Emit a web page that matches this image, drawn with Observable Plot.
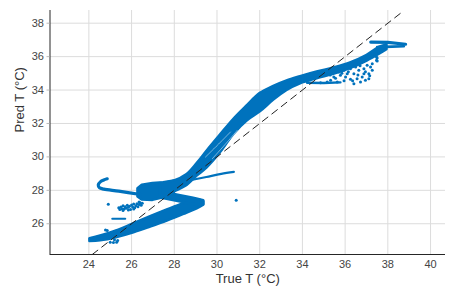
<!DOCTYPE html>
<html><head><meta charset="utf-8">
<script src="https://cdn.jsdelivr.net/npm/d3@7"></script>
<script src="https://cdn.jsdelivr.net/npm/@observablehq/plot@0.6"></script>
<style>body{margin:0;background:#fff;}</style>
</head><body><div id="chart"></div>
<script>
const xTicks = [24, 26, 28, 30, 32, 34, 36, 38, 40];
const yTicks = [26, 28, 30, 32, 34, 36, 38];
const xLabel = "True T (°C)";
const yLabel = "Pred T (°C)";
const xDomain = [22.18, 40.7];
const yDomain = [24.16, 38.76];

// main rising band: x, lower y, upper y
const mainX  = [27.35, 27.98, 28.60, 29.07, 29.54, 30.16, 30.79, 31.41, 32.03, 32.66, 33.28, 33.91, 34.69, 35.47, 36.25, 37.03, 37.65, 37.96];
const mainLo = [27.60, 27.90, 28.30, 28.85, 29.35, 30.25, 31.35, 32.15, 32.70, 33.40, 33.98, 34.38, 34.68, 34.94, 35.28, 35.74, 36.18, 36.42];
const mainHi = [28.40, 28.55, 28.95, 29.60, 30.35, 31.30, 32.25, 33.05, 33.80, 34.22, 34.55, 34.80, 35.08, 35.32, 35.62, 36.08, 36.58, 36.68];

// lower stroke of the "Z"
const lowX  = [24.05, 24.55, 25.33, 26.11, 26.89, 27.67, 28.45, 29.07, 29.38];
const lowLo = [24.94, 24.98, 25.18, 25.46, 25.80, 26.16, 26.56, 26.90, 27.12];
const lowHi = [25.10, 25.26, 25.58, 26.00, 26.42, 26.82, 27.20, 27.44, 27.32];

// diagonal of the "Z"
const diagBandX  = [27.0, 27.6, 28.3, 28.9, 29.38];
const diagBandLo = [27.62, 27.48, 27.30, 27.15, 27.15];
const diagBandHi = [28.00, 27.85, 27.68, 27.52, 27.38];

// dense cluster
const blobX  = [26.3, 26.5, 27.0, 27.5, 28.0];
const blobLo = [27.60, 27.42, 27.40, 27.55, 27.80];
const blobHi = [28.10, 28.30, 28.40, 28.45, 28.55];

// hook on the left
const hookX = [24.86, 24.70, 24.55, 24.44, 24.50, 24.70, 25.40, 26.42];
const hookY = [28.69, 28.62, 28.52, 28.32, 28.15, 28.07, 27.95, 27.75];

// thin tail to the right
const tailX = [28.3, 29.5, 30.2, 30.79];
const tailY = [28.49, 28.80, 28.98, 29.10];

// short line at ~26.3
const shortX = [25.1, 25.7];
const shortY = [26.3, 26.3];

// line below the upper cloud
const cloudLineX = [34.22, 35.0, 35.78];
const cloudLineY = [34.44, 34.42, 34.46];

// top-right end
const topAX = [37.2, 38.0, 38.83];
const topAY = [36.87, 36.85, 36.74];
const topBX = [37.5, 38.2, 38.75];
const topBY = [36.57, 36.60, 36.62];

// gaps between strands
const gap1X = [29.46, 30.17, 30.63];
const gap1Y = [29.99, 30.89, 31.49];
const gap2X = [29.78, 30.48, 30.95];
const gap2Y = [29.89, 30.89, 31.59];

// scattered points
const scatX = [24.91,
  25.40, 25.45, 25.50, 25.55, 25.60, 25.65, 25.70, 25.75, 25.80, 25.85, 25.90, 25.95, 26.00, 26.05, 26.10, 26.15, 26.20, 26.25, 26.30, 26.35, 26.40, 26.45, 26.50, 25.60, 25.85, 26.10, 26.35,
  24.78, 24.86, 25.25, 25.00, 25.15, 25.30, 25.35, 25.20, 30.9,
  35.47, 35.71, 35.78, 35.94, 36.02, 36.10, 36.25, 36.25, 36.41, 36.49, 36.56, 36.64, 36.72, 36.80, 36.88, 36.88, 36.95,
  37.03, 37.11, 37.11, 37.19, 37.27, 37.27, 37.47, 37.50, 36.41, 35.63, 35.32, 35.16, 34.85, 37.47, 37.5,
  35.30, 35.55, 35.85, 36.15, 36.35, 36.60, 36.95, 37.15, 35.95, 36.70];
const scatY = [27.16,
  26.95, 26.85, 27.00, 26.90, 27.08, 26.88, 27.02, 26.92, 27.10, 26.98, 27.05, 26.86, 27.12, 27.00, 27.18, 26.95, 27.08, 27.20, 27.02, 27.15, 27.25, 27.10, 27.22, 26.80, 26.82, 26.88, 27.30,
  25.62, 25.60, 25.55, 24.90, 24.88, 24.90, 25.00, 25.05, 27.4,
  34.78, 35.08, 34.88, 35.18, 34.78, 34.98, 35.28, 34.64, 34.98, 35.38, 34.68, 35.18, 34.48, 34.78, 35.28, 34.98, 34.58,
  35.48, 34.98, 34.68, 35.38, 35.18, 35.58, 35.78, 35.92, 34.38, 34.48, 34.58, 34.48, 34.44, 35.98, 35.74,
  34.90, 34.70, 35.00, 35.10, 34.55, 34.90, 35.10, 34.85, 34.55, 35.45];

const diagRef = [24.16, 38.76];

const C = "#0072BD";
const band = (xs, lo, hi) => xs.map((x, i) => ({x, lo: lo[i], hi: hi[i]}));
const pts = (xs, ys) => xs.map((x, i) => ({x, y: ys[i]}));
const areaOpts = {x: "x", y1: "lo", y2: "hi", fill: C, stroke: C, strokeWidth: 2.6, strokeLinejoin: "round", curve: "catmull-rom"};

const plot = Plot.plot({
  width: 465, height: 294,
  marginLeft: 49.5, marginRight: 20, marginTop: 10, marginBottom: 40,
  style: {fontFamily: "'Liberation Sans', Arial, sans-serif", background: "#fff"},
  x: {domain: xDomain},
  y: {domain: yDomain},
  marks: [
    Plot.gridX(xTicks, {stroke: "#dcdcdc", strokeOpacity: 1, strokeWidth: 1}),
    Plot.gridY(yTicks, {stroke: "#dcdcdc", strokeOpacity: 1, strokeWidth: 1}),
    Plot.areaY(band(lowX, lowLo, lowHi), areaOpts),
    Plot.areaY(band(diagBandX, diagBandLo, diagBandHi), areaOpts),
    Plot.areaY(band(blobX, blobLo, blobHi), {...areaOpts, curve: "linear"}),
    Plot.areaY(band(mainX, mainLo, mainHi), areaOpts),
    Plot.line(pts(gap1X, gap1Y), {x: "x", y: "y", stroke: "#fff", strokeWidth: 0.8, strokeOpacity: 0.6, curve: "catmull-rom"}),
    Plot.line(pts(gap2X, gap2Y), {x: "x", y: "y", stroke: "#fff", strokeWidth: 0.8, strokeOpacity: 0.6, curve: "catmull-rom"}),
    Plot.line(pts(hookX, hookY), {x: "x", y: "y", stroke: C, strokeWidth: 3.2, curve: "catmull-rom"}),
    Plot.line(pts(tailX, tailY), {x: "x", y: "y", stroke: C, strokeWidth: 2.2, curve: "catmull-rom"}),
    Plot.line(pts(shortX, shortY), {x: "x", y: "y", stroke: C, strokeWidth: 2.2}),
    Plot.line(pts(cloudLineX, cloudLineY), {x: "x", y: "y", stroke: C, strokeWidth: 2.4}),
    Plot.line(pts(topAX, topAY), {x: "x", y: "y", stroke: C, strokeWidth: 3.2}),
    Plot.line(pts(topBX, topBY), {x: "x", y: "y", stroke: C, strokeWidth: 2.6}),
    Plot.dot(pts(scatX, scatY), {x: "x", y: "y", r: 1.5, fill: C}),
    Plot.line(pts(diagRef, diagRef), {x: "x", y: "y", stroke: "#222", strokeWidth: 1, strokeDasharray: "7,5"}),
    Plot.ruleX([xDomain[0]], {stroke: "#262626", strokeWidth: 1}),
    Plot.ruleY([yDomain[0]], {stroke: "#262626", strokeWidth: 1}),
    Plot.axisX(xTicks, {tickSize: 0, tickPadding: 6, fontSize: 11, fill: "#444", label: null}),
    Plot.axisY(yTicks, {tickSize: 3, tickPadding: 3, fontSize: 11, fill: "#444", stroke: "#bbb", label: null}),
    Plot.text([xLabel], {frameAnchor: "bottom", lineAnchor: "middle", dy: 24.5, fontSize: 13, fill: "#333"}),
    Plot.text([yLabel], {frameAnchor: "left", lineAnchor: "middle", dx: -30, rotate: -90, fontSize: 13, fill: "#333"})
  ]
});
document.getElementById("chart").appendChild(plot);
</script>
</body></html>
